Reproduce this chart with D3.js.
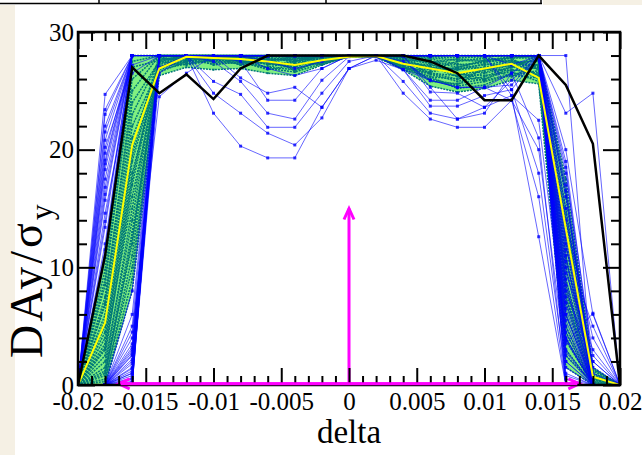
<!DOCTYPE html>
<html>
<head>
<meta charset="utf-8">
<script src="https://cdn.jsdelivr.net/npm/d3@7/dist/d3.min.js"></script>
<style>
  html, body { margin: 0; padding: 0; background: #ffffff; }
  svg { display: block; }
</style>
</head>
<body>
<svg id="chart" width="642" height="455"></svg>
<script>
// Offsets in delta where every run is sampled
const deltas = [-0.020, -0.018, -0.016, -0.014, -0.012, -0.010, -0.008, -0.006, -0.004, -0.002,
                 0.000,  0.002,  0.004,  0.006,  0.008,  0.010,  0.012,  0.014,  0.016,  0.018, 0.020];

// Individual runs (blue, with markers)
const blueRuns = [
  [0, 24.7, 28, 28, 28, 28, 28, 28, 28, 28, 28, 28, 28, 28, 28, 28, 28, 28, 12, 0, 0],
  [0, 23.4, 28, 28, 28, 28, 28, 27.5, 26.9, 27.5, 28, 28, 28, 28, 28, 28, 28, 28, 9, 0, 0],
  [0, 20.8, 28, 28, 28, 28, 26.1, 24.8, 25.3, 23.6, 26.9, 28, 28, 28, 28, 28, 28, 28, 15, 0, 0],
  [0, 20.2, 27.2, 28, 28, 27.5, 25.8, 23.1, 22.6, 25.9, 27.9, 28, 28, 28, 28, 28, 27.2, 28, 6, 0, 0],
  [0, 19.7, 28, 28, 28, 28, 28, 28, 28, 28, 28, 28, 26.8, 24.2, 24.2, 25.3, 25.5, 28, 18, 2.5, 0],
  [0, 19.1, 28, 28, 28, 28, 28, 28, 28, 28, 28, 28, 28, 28, 28, 28, 28, 28, 4, 0, 0],
  [0, 18.3, 28, 28, 28, 25.8, 24.7, 21.9, 21.9, 24.8, 27.5, 28, 28, 28, 28, 28, 28, 28, 20, 6, 0],
  [0, 16.8, 28, 28, 28, 28, 28, 28, 28, 28, 28, 28, 25.8, 23.1, 22.6, 23.6, 24.6, 12.6, 0, 0, 0],
  [0, 15.7, 28, 28, 28, 28, 28, 28, 28, 28, 28, 28, 28, 28, 28, 28, 28, 28, 7, 0, 0],
  [0, 14.6, 26.5, 28, 28, 28, 28, 28, 28, 28, 28, 28, 28, 28, 28, 28, 28, 28, 2, 0, 0],
  [0, 13.4, 28, 28, 28, 28, 28, 26.9, 26.3, 26.9, 28, 28, 28, 28, 28, 28, 28, 28, 11, 0, 0],
  [0, 12, 28, 28, 28, 28, 28, 28, 28, 28, 28, 28, 28, 28, 28, 28, 28, 28, 23.1, 24.8, 0],
  [0, 0, 0, 28, 28, 28, 28, 28, 28, 28, 28, 28, 28, 28, 28, 28, 28, 28, 28, 0, 0],
  [0, 0, 0.5, 28, 28, 23.1, 20.3, 19.3, 19.3, 23.6, 26.9, 27.6, 26.8, 25.9, 25.3, 25.3, 24.2, 16, 0, 0, 0],
  [0, 0, 1, 28, 28, 24.8, 23.1, 21.4, 20.4, 22.7, 26.9, 28, 28, 28, 28, 28, 28, 28, 3, 0, 0],
  [0, 0, 1.5, 28, 28, 28, 27.5, 24.2, 24.2, 26.9, 28, 28, 28, 28, 28, 28, 28, 28, 5, 0, 0],
  [0, 0, 2, 28, 28, 28, 28, 28, 28, 28, 28, 28, 24.8, 22.6, 21.9, 21.9, 24.2, 20, 2, 0, 0],
  [0, 0, 3, 28, 28, 28, 28, 28, 28, 28, 28, 28, 28, 28, 28, 28, 28, 28, 8, 2, 0],
  [0, 0, 4, 28, 28, 28, 28, 28, 28, 28, 28, 28, 27.5, 25.9, 25.3, 25.3, 26.5, 28, 0.5, 0, 0],
  [0, 0, 5, 28, 28, 28, 28, 28, 28, 28, 28, 28, 28, 28, 28, 28, 28, 28, 14, 4, 0],
  [0, 0, 0, 26.5, 28, 28, 28, 28, 28, 28, 28, 28, 28, 28, 28, 28, 28, 28, 10, 0, 0],
  [0, 0, 1.2, 28, 28, 28, 28, 28, 28, 28, 28, 28, 28, 24.9, 24.8, 23.6, 25.9, 28, 16, 1, 0],
  [0, 0, 2.5, 28, 28, 28, 28, 28, 28, 28, 28, 28, 26.8, 23.7, 23.7, 24.6, 25.1, 28, 6.5, 0, 0],
  [0, 0, 0, 28, 28, 28, 28, 28, 28, 28, 28, 28, 28, 28, 28, 28, 28, 28, 1, 0, 0],
  [0, 0, 0.8, 28, 28, 28, 28, 28, 28, 28, 28, 28, 28, 28, 28, 28, 28, 28, 12.5, 0, 0],
  [0, 0, 3.5, 28, 28, 28, 28, 28, 28, 28, 28, 28, 28, 28, 28, 28, 28, 28, 3.5, 6.1, 0],
  [0, 0, 6, 28, 28, 28, 28, 28, 28, 28, 28, 28, 28, 25.3, 22.6, 23.1, 26.5, 21, 0, 0, 0],
  [0, 0, 8, 28, 28, 28, 28, 28, 28, 28, 28, 28, 28, 28, 28, 28, 28, 28, 17, 0, 0],
  [0, 0, 0.3, 27, 28, 28, 28, 28, 28, 28, 28, 28, 28, 28, 28, 28, 28, 28, 0, 0, 0],
  [0, 0, 1.8, 28, 28, 28, 28, 28, 28, 28, 28, 28, 28, 28, 28, 28, 28, 28, 9.5, 3, 0],
  [0, 0, 2.2, 28, 28, 28, 28, 28, 28, 28, 28, 28, 28, 28, 28, 28, 28, 28, 5.5, 0, 0],
  [0, 0, 4.5, 24.5, 26.5, 28, 28, 28, 28, 28, 28, 28, 28, 28, 28, 28, 28, 28, 2.5, 0, 0],
  [0, 0, 0, 28, 28, 28, 28, 28, 28, 28, 28, 28, 28, 28, 28, 28, 28, 28, 19, 1.5, 0],
  [0, 22, 28, 28, 28, 28, 28, 28, 28, 28, 28, 28, 28, 28, 28, 28, 28, 28, 4.5, 0, 0],
  [0, 17.5, 28, 28, 28, 28, 28, 28, 28, 28, 28, 28, 28, 28, 28, 28, 28, 28, 7.5, 0, 0],
  [0, 0, 1, 28, 28, 28, 28, 28, 28, 28, 28, 28, 28, 28, 28, 28, 28, 28, 1.5, 0, 0],
  [0, 0, 2.8, 28, 28, 28, 28, 28, 28, 28, 28, 28, 28, 28, 28, 28, 28, 28, 11.5, 5, 0],
  [0, 11.5, 28, 28, 28, 28, 28, 28, 28, 28, 28, 28, 28, 28, 28, 28, 28, 28, 0, 0, 0],
  [0, 0, 3.2, 28, 28, 28, 28, 28, 28, 28, 28, 28, 28, 28, 28, 28, 28, 28, 6, 0, 0],
  [0, 0, 0.6, 28, 28, 28, 28, 28, 28, 28, 28, 28, 28, 28, 28, 28, 28, 28, 13, 0, 0],
  [0, 21.5, 28, 28, 28, 28, 28, 28, 28, 28, 28, 28, 28, 28, 28, 28, 28, 28, 8.5, 0, 0],
  [0, 16.2, 28, 28, 28, 28, 28, 28, 28, 28, 28, 28, 28, 28, 28, 28, 28, 28, 2.8, 0, 0],
  [0, 13.9, 28, 28, 28, 28, 28, 28, 28, 28, 28, 28, 28, 28, 28, 28, 28, 28, 18.5, 0, 0],
  [0, 18.8, 28, 28, 28, 28, 28, 28, 28, 28, 28, 28, 28, 28, 28, 28, 28, 28, 10.5, 2, 0],
  [0, 23, 28, 28, 28, 28, 28, 28, 28, 28, 28, 28, 28, 28, 28, 28, 28, 28, 3.8, 0, 0],
  [0, 0, 1.4, 28, 28, 28, 28, 28, 28, 28, 28, 28, 28, 28, 28, 28, 28, 28, 16.5, 0, 0],
  [0, 0, 2.6, 28, 28, 28, 28, 28, 28, 28, 28, 28, 28, 28, 28, 28, 25.1, 18, 0.8, 0, 0],
  [0, 0, 0.2, 28, 28, 28, 28, 28, 28, 28, 28, 28, 28, 28, 28, 28, 24.6, 22.5, 4, 0, 0]
];

// Second ensemble (dotted teal), its envelope and its mean
const tealRuns = [
  [0, 10.8, 28, 28, 28, 28, 28, 28, 28, 28, 28, 28, 28, 28, 28, 28, 28, 28, 17.5, 1.5, 0],
  [0, 0, 8, 26.3, 27, 26.8, 26.9, 26.5, 26.3, 27.2, 27.9, 27.9, 26.8, 25.4, 24.9, 25.2, 25.9, 25.6, 1.5, 0, 0],
  [0, 9, 26, 28, 28, 28, 27.5, 27, 26.8, 27.5, 28, 28, 27.5, 26.5, 26, 26.5, 27, 28, 16, 1, 0],
  [0, 7.5, 24, 27.5, 28, 27.8, 28, 27.8, 27.5, 28, 28, 28, 27, 26, 25.5, 27, 27.5, 27, 14, 0.5, 0],
  [0, 6, 22, 27, 27.5, 28, 27.2, 27.5, 27, 27.8, 28, 28, 27.6, 27, 26.5, 26, 26.8, 26.5, 12, 0, 0],
  [0, 5, 20, 28, 28, 27.5, 28, 28, 27.8, 27.5, 28, 28, 28, 27.5, 27, 27.5, 27.8, 26.2, 13.5, 1.2, 0],
  [0, 4, 18, 27, 28, 28, 28, 27.2, 27.5, 27.8, 27.9, 28, 27.2, 26.2, 26, 26.8, 27.2, 26, 10, 0.8, 0],
  [0, 3, 16, 26.8, 27.3, 27.6, 27.8, 28, 27.6, 27.2, 28, 27.9, 26.9, 26.8, 27.5, 27.8, 27.4, 27.5, 8, 0, 0],
  [0, 2, 14, 27.8, 27.6, 28, 27.5, 26.8, 27.2, 28, 27.9, 28, 27.8, 27.3, 26.4, 26.3, 26.6, 25.8, 6, 0.3, 0],
  [0, 1, 12, 28, 28, 27.4, 27.6, 27.5, 27.8, 27.6, 28, 27.95, 27.5, 25.8, 25.6, 26, 27, 27.8, 4.5, 0, 0],
  [0, 0.5, 10, 26.6, 27.5, 27.8, 27.2, 27.8, 26.7, 27.6, 28, 28, 27, 26.6, 27, 27.6, 27.8, 28, 3, 0, 0],
  [0, 8.5, 27, 27.6, 27.8, 27.6, 27.6, 27, 27.5, 27.9, 28, 27.9, 27.6, 27.6, 26.5, 26.6, 27.2, 27.2, 15, 1.4, 0],
  [0, 3.5, 19, 27.2, 28, 28, 28, 28, 28, 27.8, 27.9, 28, 28, 27.8, 27.6, 27.5, 27.6, 26.8, 11, 0.6, 0],
  [0, 1.5, 15, 27.9, 27.4, 27.9, 27.9, 27.6, 27.2, 27.4, 27.9, 27.9, 26.8, 26.2, 25.2, 25.5, 26.5, 26.4, 7, 0, 0],
  [0, 0, 9, 27.4, 28, 27.7, 27.9, 28, 27.9, 27.8, 27.95, 28, 27.4, 27.2, 26.8, 27, 26.2, 27.3, 2.5, 0.2, 0],
  [0, 9.8, 27.5, 28, 27.9, 28, 27.8, 27.9, 28, 28, 28, 28, 27.8, 27.5, 27.2, 27.4, 27.8, 27.8, 16.5, 1.3, 0],
  [0, 6.8, 23, 27.6, 28, 27.2, 27.5, 27.3, 27.1, 27.7, 27.9, 28, 27.2, 26.4, 25.8, 26.2, 27.1, 26.9, 12.8, 0.9, 0],
  [0, 4.5, 19.5, 27.3, 27.8, 27.9, 27.4, 27.6, 27.9, 27.6, 28, 27.95, 27.7, 26.9, 26.9, 27.2, 27.6, 27.1, 9, 0.4, 0],
  [0, 2.5, 17, 27.5, 27.2, 27.6, 28, 27.4, 26.9, 27.4, 27.95, 27.9, 27.3, 27.1, 26.2, 25.9, 26.4, 26.7, 7.5, 0.1, 0],
  [0, 1.2, 13, 27, 27.7, 27.9, 27.7, 27.7, 27.6, 27.9, 28, 28, 27.9, 27.7, 27.3, 26.8, 27.3, 27.6, 5, 0, 0],
  [0, 0.3, 11, 27.7, 27.9, 27.5, 27.3, 27.9, 27.4, 27.3, 27.9, 27.9, 27.1, 25.9, 25.4, 25.8, 26.3, 26.1, 3.8, 0, 0],
  [0, 7, 25, 28, 28, 28, 28, 27.6, 27.7, 28, 28, 28, 28, 27.9, 27.8, 27.9, 28, 27.9, 14.5, 0.7, 0],
  [0, 5.5, 21, 26.9, 27.6, 27.3, 27.4, 26.9, 26.6, 27.3, 27.9, 27.9, 27.4, 26.8, 26.8, 27.3, 27.1, 26.3, 10.8, 0.5, 0],
  [0, 3.2, 17.5, 27.9, 28, 28, 27.9, 28, 27.9, 27.9, 28, 28, 27.6, 27.4, 27.7, 27.6, 27.9, 27.9, 8.5, 0.2, 0],
  [0, 0.8, 12.5, 27.1, 27.3, 27.7, 27.6, 27.3, 27.3, 27.5, 27.9, 27.9, 26.9, 26.5, 26.3, 26.9, 26.7, 27, 4, 0, 0]
];
const bandUpper = [0, 10.8, 28, 28, 28, 28, 28, 28, 28, 28, 28, 28, 28, 28, 28, 28, 28, 28, 17.5, 1.5, 0];
const bandLower = [0, 0, 8, 26.3, 27.0, 26.8, 26.9, 26.5, 26.3, 27.2, 27.9, 27.9, 26.8, 25.4, 24.9, 25.2, 25.9, 25.6, 1.5, 0, 0];
const meanRun   = [0, 5.3, 20.4, 26.9, 27.9, 27.8, 27.7, 27.5, 27.2, 27.6, 27.9, 27.95, 27.3, 26.9, 26.5, 26.9, 27.3, 26.1, 13.3, 0.7, 0];

// Reference run (black)
const referenceRun = [0, 11, 27, 24.8, 26.4, 24.3, 26.9, 28, 28, 28, 28, 28, 28, 27.5, 26.5, 24.2, 24.2, 28, 25.5, 20.5, 0];

// Axis ticks
const xMajorTicks = [-0.02, -0.015, -0.01, -0.005, 0, 0.005, 0.01, 0.015, 0.02];
const xTickLabels = ["-0.02", "-0.015", "-0.01", "-0.005", "0", "0.005", "0.01", "0.015", "0.02"];
const xMinorTicks = [-0.019, -0.018, -0.017, -0.016, -0.014, -0.013, -0.012, -0.011, -0.009, -0.008, -0.007, -0.006,
                     -0.004, -0.003, -0.002, -0.001, 0.001, 0.002, 0.003, 0.004, 0.006, 0.007, 0.008, 0.009,
                     0.011, 0.012, 0.013, 0.014, 0.016, 0.017, 0.018, 0.019];
const yMajorTicks = [0, 10, 20, 30];
const yMinorTicks = [2, 4, 6, 8, 12, 14, 16, 18, 22, 24, 26, 28];

// Markers: span of the horizontal double arrow and height of the vertical one
const spanArrow = [-0.017, 0.017];
const centreArrow = { delta: 0, top: 15.0 };

const svg = d3.select("#chart");
const W = 642, H = 455;
const plot = { left: 78, right: 620, top: 32, bottom: 385 };

// page background pieces
svg.append("rect").attr("x", 0).attr("y", 0).attr("width", W).attr("height", H).attr("fill", "#ffffff");
svg.append("rect").attr("x", 0).attr("y", 5).attr("width", 15).attr("height", H - 5).attr("fill", "#f5f0e4");
svg.append("rect").attr("x", 543).attr("y", 0).attr("width", W - 543).attr("height", 5).attr("fill", "#f5f0e4");
svg.append("line").attr("x1", 0).attr("x2", 542).attr("y1", 3.5).attr("y2", 3.5)
  .attr("stroke", "#000").attr("stroke-width", 1.5);
[99, 326, 541].forEach(px => {
  svg.append("line").attr("x1", px).attr("x2", px).attr("y1", 0).attr("y2", 4)
    .attr("stroke", "#000").attr("stroke-width", 1.5);
});

const x = d3.scaleLinear().domain([-0.02, 0.02]).range([plot.left, plot.right]);
const y = d3.scaleLinear().domain([0, 30]).range([plot.bottom, plot.top]);

const line = d3.line().x((d, i) => x(deltas[i])).y(d => y(d));

const g = svg.append("g");
g.append("defs").append("clipPath").attr("id", "plotclip")
  .append("rect").attr("x", plot.left).attr("y", plot.top)
  .attr("width", plot.right - plot.left).attr("height", plot.bottom - plot.top);
const data = g.append("g").attr("clip-path", "url(#plotclip)");

// envelope of the teal ensemble
const band = d3.area()
  .x((d, i) => x(deltas[i]))
  .y0((d, i) => y(bandLower[i]))
  .y1((d, i) => y(bandUpper[i]));
data.append("path").datum(bandUpper).attr("d", band).attr("fill", "#80f080");

// teal runs, dotted with small markers
data.selectAll("path.teal").data(tealRuns).join("path").attr("class", "teal")
  .attr("d", line).attr("fill", "none").attr("stroke", "#007878")
  .attr("stroke-width", 1.5).attr("stroke-dasharray", "2,1");
tealRuns.forEach(run => {
  data.append("g").selectAll("rect").data(run).join("rect")
    .attr("x", (d, i) => x(deltas[i]) - 1).attr("y", d => y(d) - 1)
    .attr("width", 2).attr("height", 2).attr("fill", "#007878");
});

// blue runs
data.selectAll("path.blue").data(blueRuns).join("path").attr("class", "blue")
  .attr("d", line).attr("fill", "none").attr("stroke", "#0000ff")
  .attr("stroke-opacity", 0.6).attr("stroke-width", 1);
blueRuns.forEach(run => {
  data.append("g").selectAll("rect").data(run).join("rect")
    .attr("x", (d, i) => x(deltas[i]) - 1.5).attr("y", d => y(d) - 1.5)
    .attr("width", 3).attr("height", 3).attr("fill", "#0000ff").attr("fill-opacity", 0.8);
});

// mean of the teal ensemble
data.append("path").datum(meanRun).attr("d", line).attr("fill", "none")
  .attr("stroke", "#ffff00").attr("stroke-width", 2);

// reference run
data.append("path").datum(referenceRun).attr("d", line).attr("fill", "none")
  .attr("stroke", "#000000").attr("stroke-width", 2.5).attr("stroke-linejoin", "miter");

// magenta arrows
const magenta = "#ff00ff";
function head(tx, ty, dx, dy) {
  const len = 11, half = 5;
  const bx = tx - dx * len, by = ty - dy * len;
  const px = -dy, py = dx;
  return `M${bx + px * half},${by + py * half}L${tx},${ty}L${bx - px * half},${by - py * half}`;
}
const ay = y(0.1);
g.append("line").attr("x1", x(spanArrow[0])).attr("x2", x(spanArrow[1]))
  .attr("y1", ay).attr("y2", ay).attr("stroke", magenta).attr("stroke-width", 3);
g.append("path").attr("d", head(x(spanArrow[0]), ay, -1, 0)).attr("fill", "none")
  .attr("stroke", magenta).attr("stroke-width", 3);
g.append("path").attr("d", head(x(spanArrow[1]), ay, 1, 0)).attr("fill", "none")
  .attr("stroke", magenta).attr("stroke-width", 3);
g.append("line").attr("x1", x(centreArrow.delta)).attr("x2", x(centreArrow.delta))
  .attr("y1", y(0)).attr("y2", y(centreArrow.top)).attr("stroke", magenta).attr("stroke-width", 3);
g.append("path").attr("d", head(x(centreArrow.delta), y(centreArrow.top), 0, -1)).attr("fill", "none")
  .attr("stroke", magenta).attr("stroke-width", 3);

// axes: ticks point inward on all four sides
const font = "'Liberation Serif', 'Times New Roman', serif";
const major = 17, minor = 9;

const axB = d3.axisBottom(x).tickValues(xMajorTicks).tickSizeInner(-major).tickSizeOuter(0)
  .tickFormat((d, i) => xTickLabels[i]);
const gB = g.append("g").attr("transform", `translate(0,${plot.bottom})`).call(axB);
g.append("g").attr("transform", `translate(0,${plot.bottom})`)
  .call(d3.axisBottom(x).tickValues(xMinorTicks).tickSizeInner(-minor).tickSizeOuter(0).tickFormat(""));
g.append("g").attr("transform", `translate(0,${plot.top})`)
  .call(d3.axisTop(x).tickValues(xMajorTicks).tickSizeInner(-major).tickSizeOuter(0).tickFormat(""));
g.append("g").attr("transform", `translate(0,${plot.top})`)
  .call(d3.axisTop(x).tickValues(xMinorTicks).tickSizeInner(-minor).tickSizeOuter(0).tickFormat(""));

const axL = d3.axisLeft(y).tickValues(yMajorTicks).tickSizeInner(-major).tickSizeOuter(0)
  .tickPadding(4).tickFormat(d3.format("d"));
const gL = g.append("g").attr("transform", `translate(${plot.left},0)`).call(axL);
g.append("g").attr("transform", `translate(${plot.left},0)`)
  .call(d3.axisLeft(y).tickValues(yMinorTicks).tickSizeInner(-minor).tickSizeOuter(0).tickFormat(""));
g.append("g").attr("transform", `translate(${plot.right},0)`)
  .call(d3.axisRight(y).tickValues(yMajorTicks).tickSizeInner(-major).tickSizeOuter(0).tickFormat(""));
g.append("g").attr("transform", `translate(${plot.right},0)`)
  .call(d3.axisRight(y).tickValues(yMinorTicks).tickSizeInner(-minor).tickSizeOuter(0).tickFormat(""));

g.selectAll(".domain").remove();
g.selectAll(".tick line").attr("stroke", "#000").attr("stroke-width", 2);
g.selectAll(".tick text").attr("fill", "#000").style("font-family", font).style("font-size", "25px");
gB.selectAll(".tick text").attr("dy", "0.71em").attr("y", 7);

// frame
g.append("rect").attr("x", plot.left).attr("y", plot.top)
  .attr("width", plot.right - plot.left).attr("height", plot.bottom - plot.top)
  .attr("fill", "none").attr("stroke", "#000").attr("stroke-width", 2.5);

// redraw the horizontal arrow over the bottom frame edge
g.append("line").attr("x1", x(spanArrow[0]) + 2).attr("x2", x(spanArrow[1]) - 2)
  .attr("y1", ay).attr("y2", ay).attr("stroke", magenta).attr("stroke-width", 3);

// axis titles
svg.append("text").attr("x", (plot.left + plot.right) / 2).attr("y", 443)
  .attr("text-anchor", "middle").style("font-family", font).style("font-size", "33px")
  .text("delta");

const yTitle = svg.append("text").attr("transform", "translate(42,358) rotate(-90)")
  .attr("text-anchor", "start").style("font-family", font).style("font-size", "46px")
  .style("letter-spacing", "3px");
yTitle.append("tspan").text("DAy/σ");
yTitle.append("tspan").attr("dy", "0.3em").style("font-size", "32px").text("y");
</script>
</body>
</html>
